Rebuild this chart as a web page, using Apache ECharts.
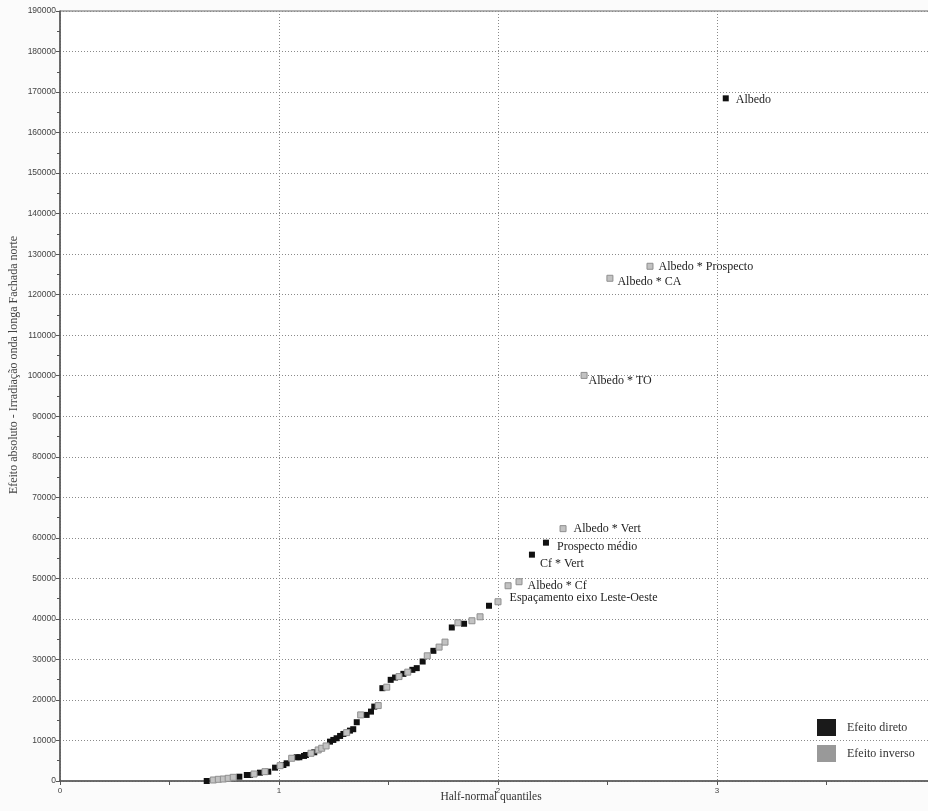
<!DOCTYPE html>
<html>
<head>
<meta charset="utf-8">
<script src="https://cdn.jsdelivr.net/npm/echarts/dist/echarts.min.js"></script>
<style>
  html, body { margin: 0; padding: 0; background: #fbfbfb; }
  #chart { width: 928px; height: 811px; }
</style>
</head>
<body>
<div id="chart"></div>
<script>
// [half-normal quantile, absolute effect, label]
var efeitoDireto = [
    [0.670, 0, ''], [0.819, 1060, ''], [0.853, 1480, ''], [0.868, 1480, ''],
    [0.913, 2050, ''], [0.951, 2300, ''], [0.982, 3290, ''], [1.020, 3950, ''],
    [1.035, 4370, ''], [1.081, 5860, ''], [1.093, 5860, ''], [1.114, 6180, ''],
    [1.123, 6420, ''], [1.161, 7090, ''], [1.233, 9710, ''], [1.248, 10130, ''],
    [1.263, 10550, ''], [1.279, 11120, ''], [1.294, 11610, ''], [1.324, 12430, ''],
    [1.339, 12780, ''], [1.355, 14500, ''], [1.400, 16310, ''], [1.420, 17120, ''],
    [1.435, 18360, ''], [1.472, 22900, ''], [1.510, 24960, ''], [1.530, 25530, ''],
    [1.568, 26440, ''], [1.609, 27430, ''], [1.629, 27850, ''], [1.656, 29480, ''],
    [1.705, 32120, ''], [1.789, 37880, ''], [1.845, 38800, ''], [1.959, 43240, ''],
    [2.155, 55850, 'Cf * Vert'],
    [2.219, 58810, 'Prospecto médio'],
    [3.040, 168450, 'Albedo']
];

var efeitoInverso = [
    [0.700, 250, ''], [0.723, 420, ''], [0.746, 490, ''], [0.768, 670, ''],
    [0.791, 910, ''], [0.886, 1730, ''], [0.936, 2300, ''], [1.005, 3780, ''],
    [1.058, 5610, ''], [1.146, 6840, ''], [1.179, 7660, ''], [1.195, 8080, ''],
    [1.215, 8650, ''], [1.309, 11940, ''], [1.373, 16310, ''], [1.453, 18610, ''],
    [1.492, 23150, ''], [1.548, 25770, ''], [1.588, 26860, ''], [1.677, 30890, ''],
    [1.731, 33040, ''], [1.758, 34270, ''], [1.817, 39040, ''], [1.881, 39540, ''],
    [1.918, 40520, ''], [2.000, 44230, ''],
    [2.046, 48180, 'Espaçamento eixo Leste-Oeste'],
    [2.096, 49170, 'Albedo * Cf'],
    [2.297, 62270, 'Albedo * Vert'],
    [2.393, 100080, 'Albedo * TO'],
    [2.511, 124050, 'Albedo * CA'],
    [2.694, 127010, 'Albedo * Prospecto']
];

var seriesNames = ['Efeito direto', 'Efeito inverso'];
var xTitle = 'Half-normal quantiles';
var yTitle = 'Efeito absoluto - Irradiação onda longa Fachada norte';

// small nudges so the labels sit where the original plot put them
var labelNudge = {
    'Albedo': [2, 2],
    'Albedo * Prospecto': [0, 1],
    'Albedo * CA': [-1, 4],
    'Albedo * TO': [-4, 5],
    'Albedo * Vert': [2, 0],
    'Prospecto médio': [3, 4],
    'Cf * Vert': [0, 9],
    'Albedo * Cf': [0, 4],
    'Espaçamento eixo Leste-Oeste': [-7, 12]
};

var serif = '"Liberation Serif", "DejaVu Serif", serif';
var sans = '"Liberation Sans", Arial, sans-serif';
var gridDots = {color: '#8a8a8a', type: [1, 2], width: 1};

function toItems(rows) {
    return rows.map(function (r) {
        var item = {value: [r[0], r[1]], name: r[2]};
        if (r[2]) {
            item.label = {show: true, offset: labelNudge[r[2]] || [0, 0]};
        }
        return item;
    });
}

var chart = echarts.init(document.getElementById('chart'));

chart.setOption({
    backgroundColor: '#fbfbfb',
    animation: false,
    grid: {
        left: 60, top: 11, right: -8, bottom: 30,
        outerBoundsMode: 'none',
        containLabel: false,
        show: true, backgroundColor: '#ffffff',
        borderColor: '#666', borderWidth: 1
    },
    legend: {
        orient: 'vertical',
        left: 817, top: 719,
        padding: 0,
        itemWidth: 19, itemHeight: 17, itemGap: 9,
        icon: 'rect',
        textStyle: {fontFamily: serif, fontSize: 12, color: '#333', padding: [0, 0, 0, 6]},
        data: [
            {name: seriesNames[0], itemStyle: {color: '#1a1a1a', borderWidth: 0}},
            {name: seriesNames[1], itemStyle: {color: '#999999', borderWidth: 0}}
        ]
    },
    xAxis: {
        type: 'value',
        min: 0, max: 4, interval: 1,
        name: xTitle,
        nameLocation: 'middle',
        nameGap: 10,
        nameMoveOverlap: false,
        nameTextStyle: {fontFamily: serif, fontSize: 11.5, color: '#333', padding: [0, 14, 0, 0]},
        axisLine: {show: true, onZero: false, lineStyle: {color: '#555', width: 1.5}},
        axisTick: {show: true, length: 4, lineStyle: {color: '#555'}},
        minorTick: {show: true, splitNumber: 2, length: 4, lineStyle: {color: '#555'}},
        axisLabel: {fontFamily: sans, fontSize: 8, color: '#444', margin: 6,
            formatter: function (v) { return v >= 4 ? '' : String(v); }},
        splitLine: {show: true, lineStyle: gridDots}
    },
    yAxis: {
        type: 'value',
        min: 0, max: 190000, interval: 10000,
        name: yTitle,
        nameLocation: 'middle',
        nameGap: 40,
        nameMoveOverlap: false,
        nameTextStyle: {fontFamily: serif, fontSize: 12, color: '#444', padding: [0, 0, 0, 62]},
        axisLine: {show: true, onZero: false, lineStyle: {color: '#555', width: 1.5}},
        axisTick: {show: true, length: 4, lineStyle: {color: '#555'}},
        minorTick: {show: true, splitNumber: 2, length: 3, lineStyle: {color: '#555'}},
        axisLabel: {fontFamily: sans, fontSize: 8.5, color: '#444', margin: 4,
            formatter: function (v) { return String(v); }},
        splitLine: {show: true, lineStyle: gridDots}
    },
    series: [
        {
            name: seriesNames[0],
            type: 'scatter',
            symbol: 'rect',
            symbolSize: 6,
            itemStyle: {color: '#111111', opacity: 1},
            label: {
                show: false, position: 'right', distance: 5,
                formatter: '{b}',
                fontFamily: serif, fontSize: 12, color: '#222'
            },
            data: toItems(efeitoDireto)
        },
        {
            name: seriesNames[1],
            type: 'scatter',
            symbol: 'rect',
            symbolSize: 6,
            itemStyle: {color: '#c2c2c2', borderColor: '#8f8f8f', borderWidth: 1, opacity: 1},
            label: {
                show: false, position: 'right', distance: 5,
                formatter: '{b}',
                fontFamily: serif, fontSize: 12, color: '#222'
            },
            data: toItems(efeitoInverso)
        }
    ]
});
</script>
</body>
</html>
